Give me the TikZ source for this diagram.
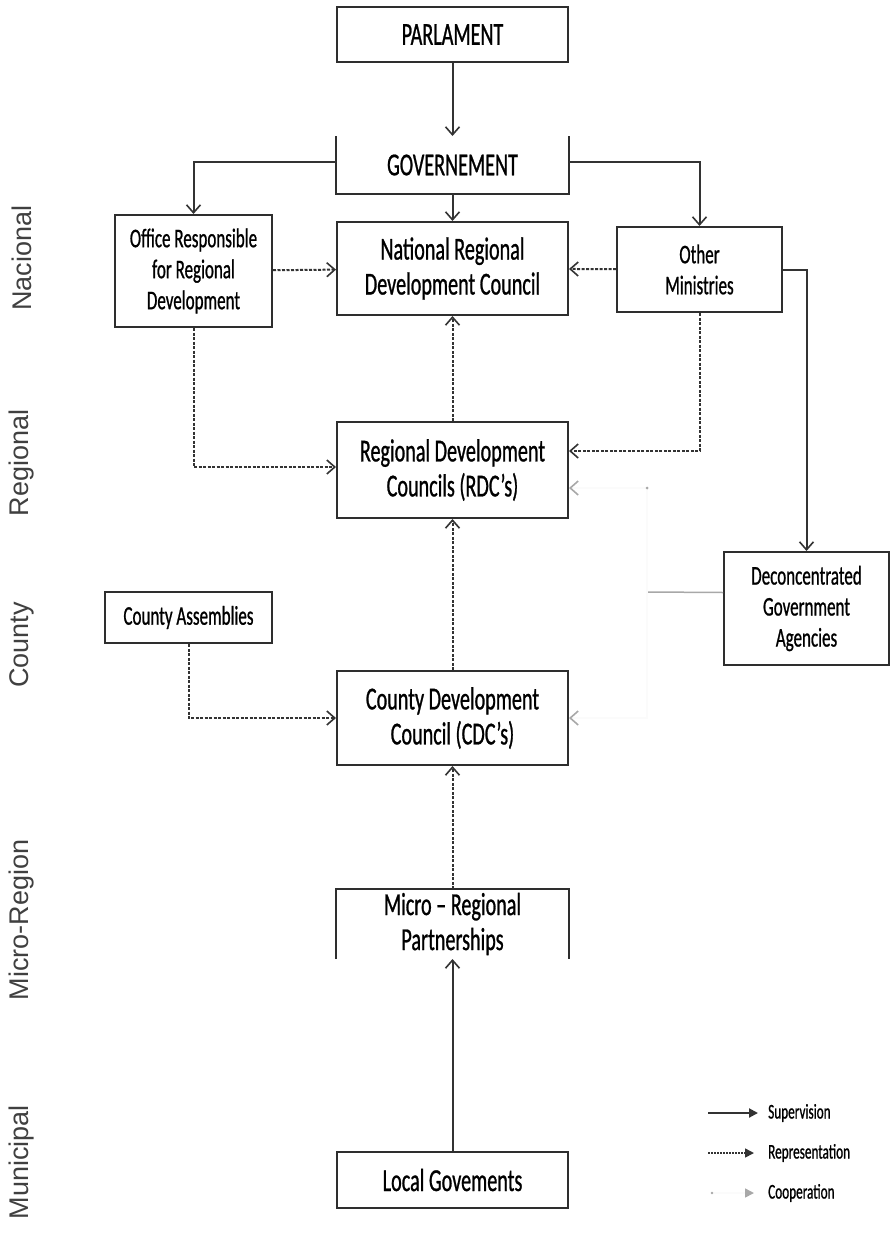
\documentclass[tikz,border=0pt]{standalone}
\usepackage{fontspec}
\setmainfont[FakeStretch=0.63,FakeBold=0.8]{Carlito}
\newfontfamily\lvlfont{Liberation Sans}
\usetikzlibrary{arrows.meta,positioning}
\definecolor{boxline}{HTML}{2E2E2E}
\definecolor{arrline}{HTML}{333333}
\definecolor{coopline}{HTML}{A8A8A8}
\definecolor{coopfaint}{HTML}{FBFBFB}
\definecolor{lvltext}{HTML}{404040}

\begin{document}
\begin{tikzpicture}[x=1pt,y=-1pt,
  box/.style={rectangle,draw=boxline,line width=2pt,inner sep=0pt,align=center,
              font=\fontsize{32}{35}\selectfont},
  sbox/.style={box,font=\fontsize{27}{31}\selectfont},
  obox/.style={box,draw=none},
  lvl/.style={rotate=90,font=\lvlfont\fontsize{27}{30}\selectfont,text=lvltext},
  leg/.style={anchor=west,inner sep=0pt,font=\fontsize{21}{24}\selectfont},
  sup/.style={-{Straight Barb[length=8pt,width=14pt,line width=1.6pt]},draw=arrline,line width=2pt},
  rep/.style={sup,dash pattern=on 3pt off 1.5pt,line width=2pt},
  coop/.style={-{Straight Barb[length=8pt,width=14pt,line width=1.6pt,color=coopline]},draw=coopfaint,line width=1.5pt}
]
\useasboundingbox (0,0) rectangle (890,1247);

% levels
\node[lvl] (nac) at (22,258)  {Nacional};
\node[lvl] (reg) at (22,463)  {Regional};
\node[lvl] (cty) at (22,645)  {County};
\node[lvl] (mic) at (22,920)  {Micro-Region};
\node[lvl] (mun) at (22,1162) {Municipal};

% boxes
\node[box,minimum width=231pt,minimum height=55pt] (par) at (452.5,34.5) {PARLAMENT};
\node[obox,minimum width=231pt,minimum height=56pt] (gov) at (452.5,165) {GOVERNEMENT};
\draw[boxline,line width=2pt] (gov.north west) -- (gov.south west) -- (gov.south east) -- (gov.north east);
\node[sbox,minimum width=157pt,minimum height=112pt] (off) at (193.5,271) {Office Responsible\\for Regional\\Development};
\node[box,minimum width=231pt,minimum height=93pt] (nrdc) at (452.5,268.5) {National Regional\\Development Council};
\node[sbox,minimum width=165pt,minimum height=85pt] (om) at (699.5,269.5) {Other\\Ministries};
\node[box,minimum width=231pt,minimum height=96pt] (rdc) at (452.5,470) {Regional Development\\Councils (RDC's)};
\node[sbox,minimum width=165pt,minimum height=113pt] (dga) at (806.5,608.5) {Deconcentrated\\Government\\Agencies};
\node[sbox,minimum width=167pt,minimum height=51pt] (ca) at (188.5,617.5) {County Assemblies};
\node[box,minimum width=231pt,minimum height=94pt] (cdc) at (452.5,718) {County Development\\Council (CDC's)};
\node[obox,minimum width=231pt,minimum height=68pt] (mrp) at (452.5,924) {Micro -- Regional\\Partnerships};
\draw[boxline,line width=2pt] (mrp.south west) -- (mrp.north west) -- (mrp.north east) -- (mrp.south east);
\node[box,minimum width=231pt,minimum height=56pt] (lg) at (452.5,1180) {Local Govements};

% supervision
\draw[sup] (par) -- (gov);
\draw[sup] (gov) -- (nrdc);
\draw[sup] ([yshift=3pt]gov.west) -| (off.north);
\draw[sup] ([yshift=3pt]gov.east) -| (om.north);
\draw[sup] (om.east) -| (dga.north);
\draw[sup] (lg.north) -- (mrp.south);

% representation
\draw[rep] (off) -- (nrdc);
\draw[rep] (om) -- (nrdc);
\draw[rep] (off.south) |- ([yshift=3pt]rdc.west);
\draw[rep] (om.south) |- ([yshift=19pt]rdc.east);
\draw[rep] (rdc) -- (nrdc);
\draw[rep] (cdc) -- (rdc);
\draw[rep] (mrp) -- (cdc);
\draw[rep] (ca.south) |- (cdc.west);

% cooperation
\coordinate (cp) at (647,592);
\draw[coopline,line width=1.5pt] ([yshift=16pt]dga.west) -- (cp);
\draw[coop] (cp) |- ([yshift=-18pt]rdc.east);
\draw[coop] (cp) |- (cdc.east);
\fill[coopline] (647,488) circle (1.5pt);

% legend
\node[leg] (lsup) at (768,1113) {Supervision};
\node[leg] (lrep) at (768,1153) {Representation};
\node[leg] (lcoop) at (768,1193) {Cooperation};
\coordinate (lsup0) at (708,1113);
\coordinate (lrep0) at (708,1153);
\coordinate (lcoop0) at (712,1193);
\draw[arrline,line width=2pt,-{Triangle[length=9pt,width=9pt]}] (lsup0) -- ([xshift=-10pt]lsup.west);
\draw[arrline,line width=1.5pt,dash pattern=on 2pt off 1pt,-{Triangle[length=9pt,width=9pt]}] (lrep0) -- ([xshift=-14pt]lrep.west);
\draw[coopfaint,line width=1.5pt,-{Triangle[length=9pt,width=9pt,color=coopline]}] (lcoop0) -- ([xshift=-14pt]lcoop.west);
\fill[coopline] (lcoop0) circle (1.3pt);
\end{tikzpicture}
\end{document}
